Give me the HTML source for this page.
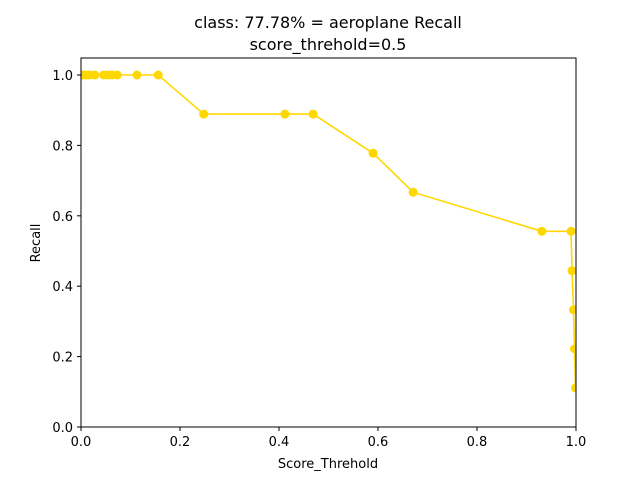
<!DOCTYPE html>
<html><head><meta charset="utf-8"><style>
body{margin:0;background:#fff;font-family:"Liberation Sans","DejaVu Sans",sans-serif}
</style></head><body>
<svg id="chart" width="640" height="480" xmlns="http://www.w3.org/2000/svg" font-family="DejaVu Sans, Liberation Sans, sans-serif">
<defs><clipPath id="pc"><rect x="81" y="58" width="495" height="369"/></clipPath></defs>
<rect width="640" height="480" fill="#fff"/>
<text x="328" y="28" text-anchor="middle" font-size="16">class: 77.78% = aeroplane Recall</text>
<text x="328" y="50" text-anchor="middle" font-size="16">score_threhold=0.5</text>
<g id="ticks"></g>
<g id="plot" clip-path="url(#pc)"></g>
<rect x="81" y="58" width="495" height="369" fill="none" stroke="#000" stroke-width="1"/>
<text x="328" y="468" text-anchor="middle" font-size="13">Score_Threhold</text>
<text x="40" y="243" text-anchor="middle" font-size="13" transform="rotate(-90 40 243)">Recall</text>
</svg>
<script>
const xValues=[0.004,0.01,0.018,0.028,0.046,0.055,0.063,0.073,0.113,0.156,0.248,0.412,0.469,0.590,0.671,0.931,0.990,0.992,0.995,0.997,0.999];
const recallValues=[1,1,1,1,1,1,1,1,1,1,0.889,0.889,0.889,0.778,0.667,0.556,0.556,0.444,0.333,0.222,0.111];
const xTicks=[0,0.2,0.4,0.6,0.8,1.0];
const yTicks=[0,0.2,0.4,0.6,0.8,1.0];
const NS="http://www.w3.org/2000/svg";
const X0=81,X1=576,Y0=427,Y1=75;
const sx=v=>X0+v*(X1-X0), sy=v=>Y0-v*(Y0-Y1);
const g=document.getElementById('plot');
const tg=document.getElementById('ticks');
function mk(t,a,p){const e=document.createElementNS(NS,t);for(const k in a)e.setAttribute(k,a[k]);(p||g).appendChild(e);return e;}
xTicks.forEach(t=>{
 const l=mk('line',{x1:sx(t),x2:sx(t),y1:427,y2:431,stroke:'#000'},tg);
 
 
 const tx=mk('text',{x:sx(t),y:446,'text-anchor':'middle','font-size':13},tg);
 tx.textContent=t.toFixed(1);
 
 
});
yTicks.forEach(t=>{
 const l=mk('line',{x1:77,x2:81,y1:sy(t),y2:sy(t),stroke:'#000'},tg);
 
 
 const tx=mk('text',{x:73,y:sy(t)+5,'text-anchor':'end','font-size':13},tg);
 tx.textContent=t.toFixed(1);
 
 
});
const pts=xValues.map((v,i)=>sx(v)+','+sy(recallValues[i])).join(' ');
const line=mk('polyline',{points:pts,fill:'none',stroke:'#FFD700','stroke-width':1.6});


xValues.forEach((v,i)=>{
 const c=mk('circle',{cx:sx(v),cy:sy(recallValues[i]),r:4.5,fill:'#FFD700'});
 
 
});
</script>
</body></html>
